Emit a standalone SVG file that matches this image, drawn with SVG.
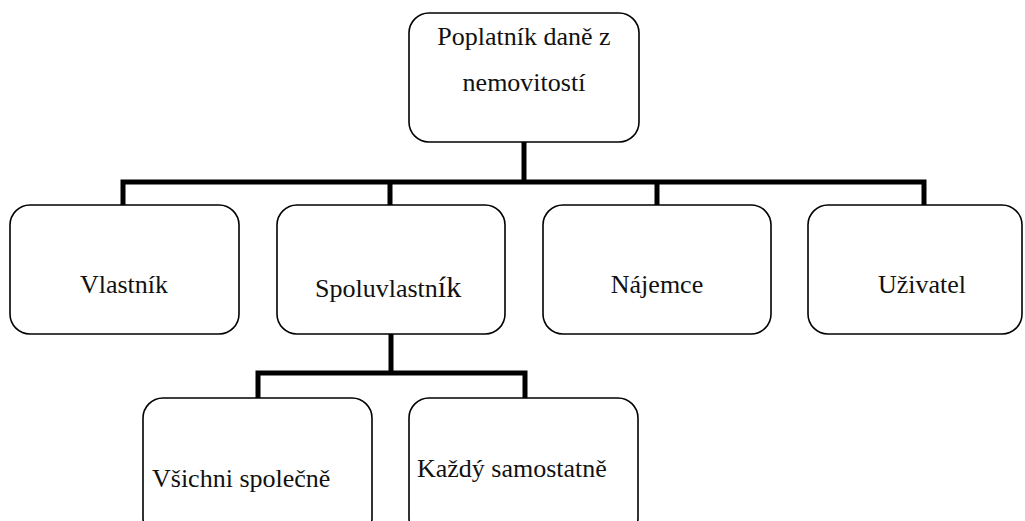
<svg xmlns="http://www.w3.org/2000/svg" width="1025" height="521" viewBox="0 0 1025 521">
<style>
.box{fill:#fff;stroke:#000;stroke-width:1.6}
.c{fill:none;stroke:#000;stroke-width:5;stroke-linecap:butt;stroke-linejoin:miter}
</style>
<rect width="1025" height="521" fill="#fff"/>
<g id="connectors">
<path class="c" d="M524 142V182M123 205V182H924V205M390 182V205M657 182V205"/>
<path class="c" d="M391 334V373M258 398V373H525V398"/>
</g>
<g font-family="Liberation Serif, Tinos, DejaVu Serif, serif" font-size="26" fill="#111">
<g id="n-root">
<rect class="box" x="409" y="13" width="230" height="129" rx="20"/>
<text x="524" y="45" text-anchor="middle">Poplatník daně z</text>
<text x="524" y="91" text-anchor="middle">nemovitostí</text>
</g>
<g id="n-vlastnik">
<rect class="box" x="10" y="205" width="229" height="129" rx="20"/>
<text x="124" y="293" text-anchor="middle">Vlastník</text>
</g>
<g id="n-spoluvlastnik">
<rect class="box" x="277" y="205" width="228" height="129" rx="20"/>
<text x="315" y="297">Spoluvlastn<tspan font-size="30">ík</tspan></text>
</g>
<g id="n-najemce">
<rect class="box" x="543" y="205" width="228" height="129" rx="20"/>
<text x="657" y="293" text-anchor="middle">Nájemce</text>
</g>
<g id="n-uzivatel">
<rect class="box" x="808" y="205" width="214" height="129" rx="20"/>
<text x="922" y="293" text-anchor="middle">Uživatel</text>
</g>
<g id="n-vsichni">
<rect class="box" x="143" y="398" width="229" height="140" rx="20"/>
<text x="152" y="487">Všichni společně</text>
</g>
<g id="n-kazdy">
<rect class="box" x="409" y="398" width="229" height="140" rx="20"/>
<text x="417" y="477">Každý samostatně</text>
</g>
</g>
</svg>
